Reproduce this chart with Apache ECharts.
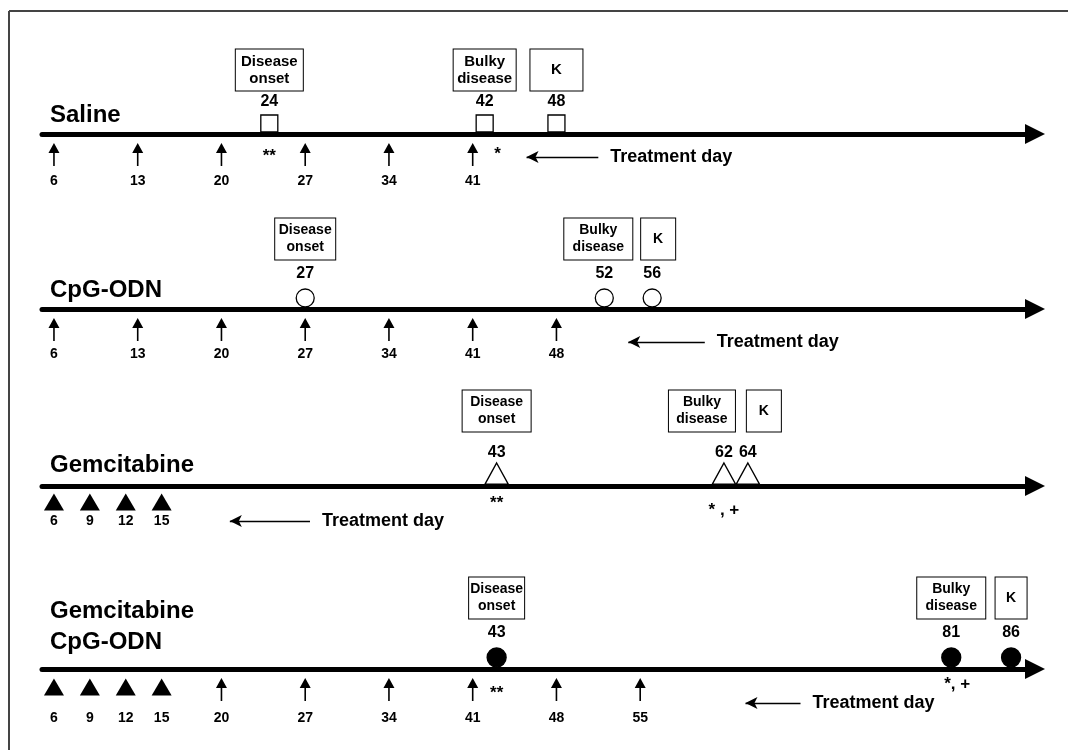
<!DOCTYPE html>
<html>
<head>
<meta charset="utf-8">
<script src="https://cdn.jsdelivr.net/npm/echarts@6/dist/echarts.min.js"></script>
<style>
    html, body { margin: 0; padding: 0; background: #fff; }
    #myChart { width: 1068px; height: 750px; }
</style>
</head>
<body>
<div id="myChart"></div>
<script>
    // groups (one time line each)
    var groups = ['Saline', 'CpG-ODN', 'Gemcitabine', 'Gemcitabine\nCpG-ODN'];
    var stageNames = ['Disease\nonset', 'Bulky\ndisease', 'K'];

    // day of disease onset, bulky disease, K
    var salineStages = [24, 42, 48];
    var cpgStages = [27, 52, 56];
    var gemStages = [43, 62, 64];
    var comboStages = [43, 81, 86];

    // treatment days : arrows (saline / CpG-ODN), triangles (gemcitabine)
    var salineArrows = [6, 13, 20, 27, 34, 41];
    var cpgArrows = [6, 13, 20, 27, 34, 41, 48];
    var gemArrows = [];
    var comboArrows = [20, 27, 34, 41, 48, 55];
    var salineDoses = [];
    var cpgDoses = [];
    var gemDoses = [6, 9, 12, 15];
    var comboDoses = [6, 9, 12, 15];

    // significance marks [day, mark]
    var salineSig = [[24, '**'], [42, '*']];
    var cpgSig = [];
    var gemSig = [[43, '**'], [62, '* , +']];
    var comboSig = [[43, '**'], [81, '*, +']];

    var stagesByRow = [salineStages, cpgStages, gemStages, comboStages];
    var arrowsByRow = [salineArrows, cpgArrows, gemArrows, comboArrows];
    var dosesByRow = [salineDoses, cpgDoses, gemDoses, comboDoses];
    var sigByRow = [salineSig, cpgSig, gemSig, comboSig];

    // layout only
    var FONT = 'Liberation Sans, Arial, Helvetica, sans-serif';
    var lineY = [134, 309, 486, 669];
    var markers = [
        {symbol: 'rect', size: [17, 17], fill: '#fff'},
        {symbol: 'circle', size: [18, 18], fill: '#fff'},
        {symbol: 'triangle', size: [23, 21], fill: '#fff'},
        {symbol: 'circle', size: [19, 19], fill: '#000'}
    ];
    var numDist = [5, 7, 2, 7];
    var boxDist = [43, 49, 54, 50];
    var boxW = [[69, 64, 54], [62, 70, 36], [70, 68, 36], [57, 70, 33]];
    var boxDx = [[0, 0, 0], [0, -6, 6], [0, -22, 16], [0, 0, 0]];
    var boxFont = [15, 14, 14, 14];
    var dayLabelDy = [47, 45, 35, 49];
    var doseOff = [17, 17, 16, 18];
    var sigOff = [[[0, 22], [13, 20]], [], [[0, 17], [0, 24]], [[0, 24], [6, 15]]];
    var notes = [
        {from: 45.5, to: 51.5, y: 23},
        {from: 54, to: 60.4, y: 33},
        {from: 20.7, to: 27.4, y: 35},
        {from: 63.8, to: 68.4, y: 34}
    ];
    var arrowPath = 'path://M5.5,0 L11,10 L6.3,10 L6.3,23 L4.7,23 L4.7,10 L0,10 Z';

    var myChart;

    function getMyChart() {
        if (typeof myChart !== 'undefined') { return myChart; }
        myChart = echarts.init(document.getElementById('myChart'), null, {renderer: 'canvas'});
        return myChart;
    }

    function buildOption() {
        var grids = [], xAxes = [], yAxes = [], series = [];
        var boldText = {fontFamily: FONT, fontWeight: 'bold', color: '#000'};
        var hidden = {color: 'rgba(0,0,0,0)', opacity: 1};

        groups.forEach(function (g, r) {
            grids.push({left: 42, right: 33, top: lineY[r] - 60, height: 120});
            xAxes.push({
                type: 'value', gridIndex: r, min: 5, max: 88,
                axisLine: {
                    show: true, onZero: true,
                    symbol: ['none', 'triangle'], symbolSize: [20, 20],
                    lineStyle: {color: '#000', width: 5}
                },
                axisTick: {show: false}, axisLabel: {show: false}, splitLine: {show: false}
            });
            yAxes.push({type: 'value', gridIndex: r, min: -60, max: 60, inverse: true, show: false});

            var m = markers[r];
            // stage markers with day number
            series.push({
                type: 'scatter', xAxisIndex: r, yAxisIndex: r, z: 5, silent: true,
                data: stagesByRow[r].map(function (d) { return [d, 0]; }),
                symbol: m.symbol, symbolSize: m.size, symbolOffset: [0, -(m.size[1] / 2 + 2)],
                itemStyle: {color: m.fill, borderColor: '#000', borderWidth: 1.3, opacity: 1},
                label: Object.assign({
                    show: true, position: 'top', distance: numDist[r], fontSize: 16,
                    formatter: function (p) { return p.value[0]; }
                }, boldText)
            });
            // stage boxes
            series.push({
                type: 'scatter', xAxisIndex: r, yAxisIndex: r, z: 4, silent: true,
                data: stagesByRow[r].map(function (d, i) {
                    var lines = stageNames[i].split('\n').length;
                    var pv = (41 - lines * 17) / 2;
                    return {
                        value: [d, 0], name: stageNames[i],
                        label: {width: boxW[r][i] - 6, padding: [pv, 2, pv, 2], offset: [boxDx[r][i], 0]}
                    };
                }),
                symbolSize: 1, itemStyle: hidden,
                label: Object.assign({
                    show: true, position: 'top', distance: boxDist[r], fontSize: boxFont[r],
                    lineHeight: 17, align: 'center',
                    borderColor: '#000', borderWidth: 1, backgroundColor: '#fff',
                    formatter: function (p) { return p.name; }
                }, boldText),
                markLine: {
                    silent: true, animation: false,
                    symbol: ['arrow', 'none'], symbolSize: [9, 12],
                    lineStyle: {type: 'solid', color: '#000', width: 1.3, opacity: 1},
                    label: Object.assign({
                        show: true, position: 'end', distance: 12, fontSize: 18,
                        formatter: 'Treatment day'
                    }, boldText),
                    data: [[{coord: [notes[r].from, notes[r].y]}, {coord: [notes[r].to, notes[r].y]}]]
                }
            });
            // treatment arrows
            series.push({
                type: 'scatter', xAxisIndex: r, yAxisIndex: r, z: 5, silent: true,
                data: arrowsByRow[r].map(function (d) { return [d, 0]; }),
                symbol: arrowPath, symbolSize: [11, 23], symbolOffset: [0, 9 + 11.5],
                itemStyle: {color: '#000', opacity: 1}
            });
            // gemcitabine doses
            series.push({
                type: 'scatter', xAxisIndex: r, yAxisIndex: r, z: 5, silent: true,
                data: dosesByRow[r].map(function (d) { return [d, 0]; }),
                symbol: 'triangle', symbolSize: [20, 17], symbolOffset: [0, doseOff[r]],
                itemStyle: {color: '#000', opacity: 1}
            });
            // treatment day numbers
            series.push({
                type: 'scatter', xAxisIndex: r, yAxisIndex: r, z: 5, silent: true,
                data: arrowsByRow[r].concat(dosesByRow[r]).map(function (d) { return [d, 0]; }),
                symbolSize: 1, itemStyle: hidden,
                label: Object.assign({
                    show: true, position: 'inside', offset: [0, dayLabelDy[r]], fontSize: 14,
                    formatter: function (p) { return p.value[0]; }
                }, boldText)
            });
            // significance marks
            series.push({
                type: 'scatter', xAxisIndex: r, yAxisIndex: r, z: 5, silent: true,
                data: sigByRow[r].map(function (s, i) {
                    return {value: [s[0], 0], name: s[1], label: {offset: sigOff[r][i]}};
                }),
                symbolSize: 1, itemStyle: hidden,
                label: Object.assign({
                    show: true, position: 'inside', fontSize: 17,
                    formatter: function (p) { return p.name; }
                }, boldText)
            });
        });

        var graphic = [
            {type: 'line', shape: {x1: 9, y1: 11, x2: 1068, y2: 11}, style: {stroke: '#444', lineWidth: 2}},
            {type: 'line', shape: {x1: 9, y1: 11, x2: 9, y2: 750}, style: {stroke: '#444', lineWidth: 2}}
        ];
        var labelY = [115, 290, 465, 627];
        groups.forEach(function (g, r) {
            graphic.push({
                type: 'text', x: 50, y: labelY[r], z: 10,
                style: {
                    text: g, fill: '#000', font: 'bold 24px ' + FONT,
                    lineHeight: 31, verticalAlign: 'middle', align: 'left'
                }
            });
        });

        return {
            backgroundColor: '#fff',
            animation: false,
            textStyle: {fontFamily: FONT},
            grid: grids, xAxis: xAxes, yAxis: yAxes,
            series: series,
            graphic: graphic
        };
    }

    getMyChart().setOption(buildOption());
</script>
</body>
</html>
